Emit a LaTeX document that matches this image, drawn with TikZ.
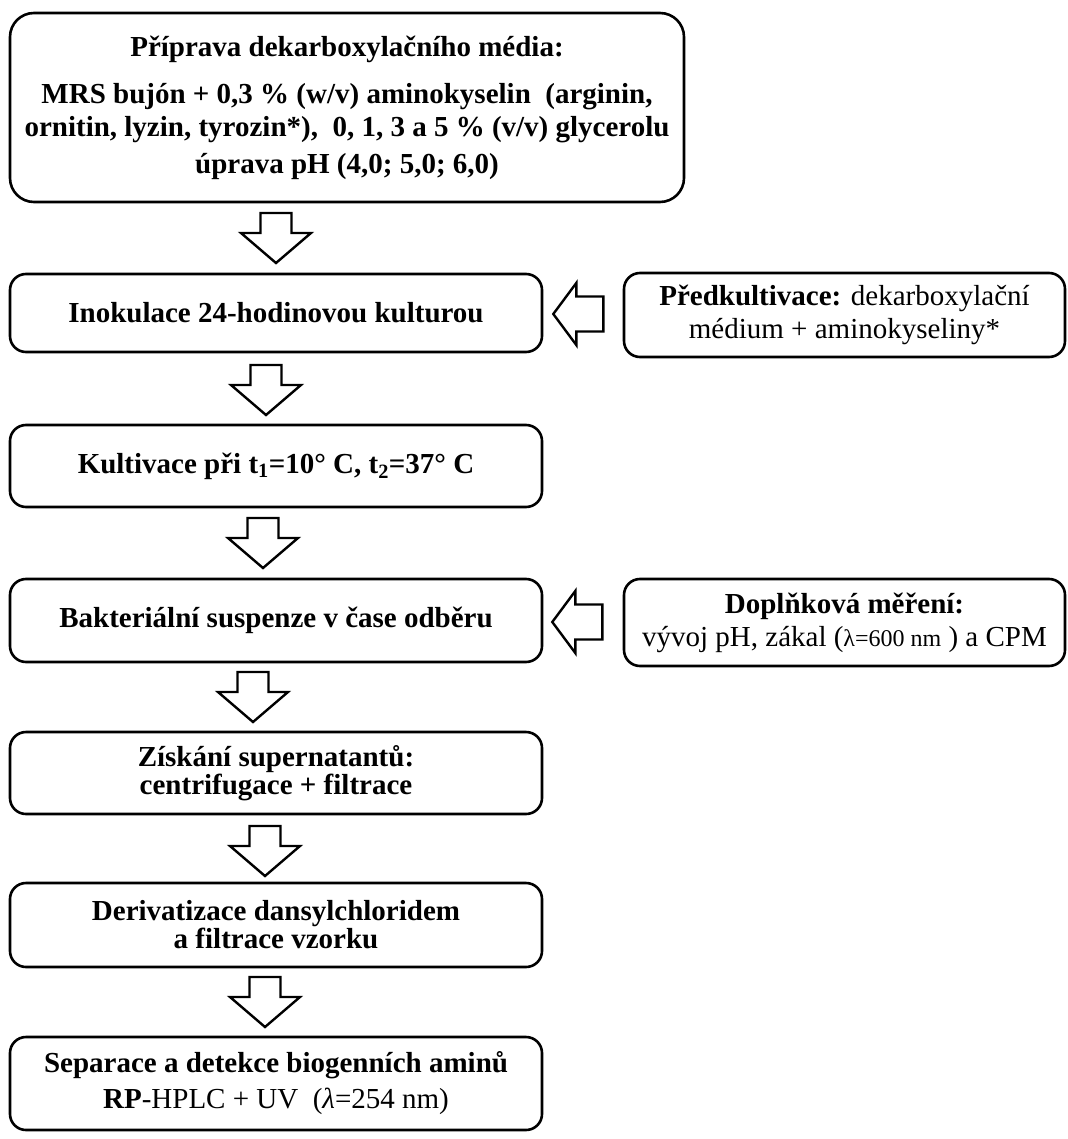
\documentclass[tikz,border=0pt]{standalone}
\usepackage{fontspec}
\setmainfont{Liberation Serif}
\usetikzlibrary{calc}
\newcommand\downblock[1]{\draw[blk] (#1) ++(-15.5,0) -- ++(31,0) -- ++(0,20) -- ++(19.5,0) -- ++(-35,30) -- ++(-35,-30) -- ++(19.5,0) -- cycle;}
\newcommand\leftblock[1]{\draw[blk] (#1) -- ++(23,-31) -- ++(0,13.5) -- ++(27,0) -- ++(0,35) -- ++(-27,0) -- ++(0,13.5) -- cycle;}
\begin{document}
\begin{tikzpicture}[x=1pt,y=-1pt,
  box/.style={draw, line width=2.6pt, rounded corners=16pt, align=center, inner sep=0pt,
    minimum width=532pt, font=\fontsize{29}{33}\selectfont},
  sidebox/.style={box, minimum width=441pt},
  blk/.style={draw, line width=2.4pt, fill=white, line join=miter}]
\useasboundingbox (0,0) rectangle (1067,1139);
\node[box, rounded corners=24pt, minimum width=674pt, minimum height=189pt] (b1) at (347,107.5)
 {\textbf{Příprava dekarboxylačního média:}\\[14pt]
  \textbf{MRS bujón + 0,3 \% (w/v) aminokyselin\ \ (arginin,}\\
  \textbf{ornitin, lyzin, tyrozin*),\ \ 0, 1, 3 a 5 \% (v/v) glycerolu}\\[4pt]
  \textbf{úprava pH (4,0; 5,0; 6,0)}};
\node[box, minimum height=78pt] (b2) at (276,313) {\textbf{Inokulace 24-hodinovou kulturou}};
\node[box, minimum height=82pt] (b3) at (276,466) {\textbf{Kultivace při t\textsubscript{1}=10°~C, t\textsubscript{2}=37°~C}};
\node[box, minimum height=83pt] (b4) at (276,620.5) {\textbf{Bakteriální suspenze v čase odběru}};
\node[box, minimum height=82pt, font=\fontsize{29}{28}\selectfont] (b5) at (276,773) {\textbf{Získání supernatantů:}\\\textbf{centrifugace + filtrace}};
\node[box, minimum height=84pt, font=\fontsize{29}{28}\selectfont] (b6) at (276,925) {\textbf{Derivatizace dansylchloridem}\\\textbf{a filtrace vzorku}};
\node[box, minimum height=93pt, font=\fontsize{29}{36}\selectfont] (b7) at (276,1083.5) {\textbf{Separace a detekce biogenních aminů}\\\textbf{RP}-HPLC + UV\ \ (\textit{λ}=254 nm)};
\node[sidebox, minimum height=84pt] (p1) at (844.5,315) {\textbf{Předkultivace:} dekarboxylační\\médium + aminokyseliny*};
\node[sidebox, minimum height=87pt] (p2) at (844.5,622.5) {\textbf{Doplňková měření:}\\vývoj pH, zákal ({\fontsize{24}{28}\selectfont λ=600 nm} ) a CPM};
\coordinate (a1) at (276,213);
\coordinate (a2) at (266,365);
\coordinate (a3) at (263,518);
\coordinate (a4) at (253,672);
\coordinate (a5) at (265,826);
\coordinate (a6) at (265,977);
\downblock{a1}\downblock{a2}\downblock{a3}\downblock{a4}\downblock{a5}\downblock{a6}
\coordinate (s1) at ($(b2.east)+(10,1)$);
\coordinate (s2) at ($(b4.east)+(9,1.5)$);
\leftblock{s1}\leftblock{s2}
\end{tikzpicture}
\end{document}
